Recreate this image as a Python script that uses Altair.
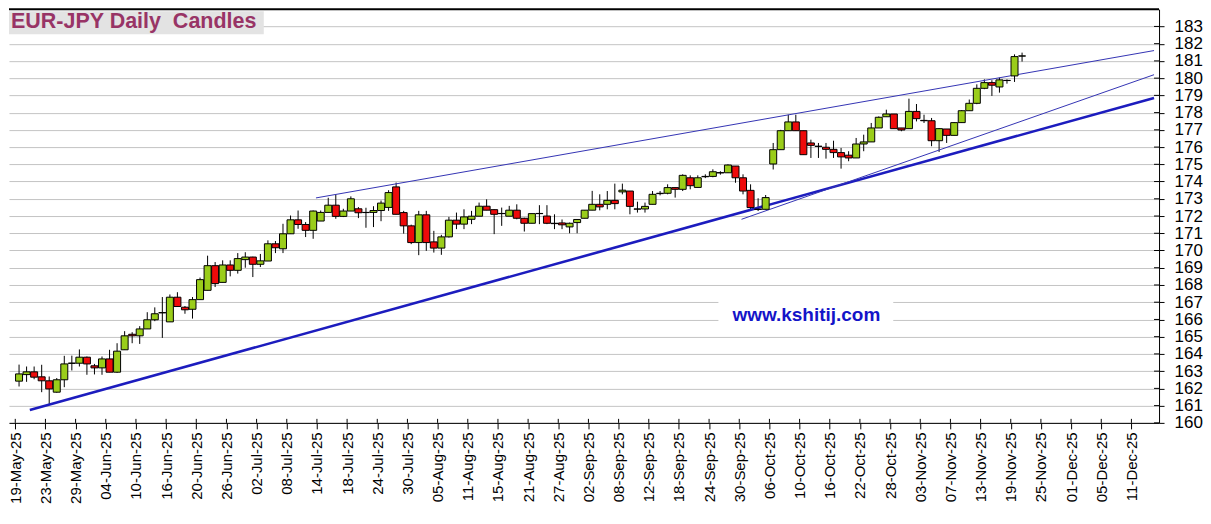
import altair as alt
import pandas as pd

# ---- data: EUR-JPY daily candles, 19-May-25 .. 20-Nov-25 (trading-day index) ----
opens = [
    162.42, 162.80, 162.96, 162.67, 162.44, 161.78, 162.50, 163.45, 163.46, 163.81,
    163.31, 163.19, 163.71, 162.94, 164.24, 165.14, 165.05, 165.45, 165.98, 166.38,
    165.86, 167.29, 166.71, 166.59, 167.15, 167.69, 169.12, 168.15, 169.16, 168.85,
    169.47, 169.62, 169.20, 169.39, 170.39, 170.10, 170.97, 171.78, 171.51, 171.17,
    171.71, 172.21, 172.63, 171.98, 172.29, 172.42, 172.20, 172.21, 172.32, 172.50,
    173.69, 172.20, 171.43, 170.46, 172.07, 170.50, 170.14, 170.79, 171.76, 171.53,
    171.81, 171.99, 172.57, 172.37, 172.14, 171.99, 172.34, 171.87, 171.58, 172.14,
    172.00, 171.58, 171.60, 171.37, 171.62, 171.87, 172.34, 172.68, 172.68, 172.91,
    173.40, 173.45, 172.40, 172.41, 172.68, 173.30, 173.32, 173.65, 173.55, 174.22,
    173.66, 174.28, 174.30, 174.50, 174.51, 174.90, 174.22, 173.49, 172.40, 172.39,
    175.02, 175.85, 176.95, 177.46, 176.95, 176.24, 176.05, 175.99, 175.87, 175.68,
    175.53, 175.37, 176.18, 176.30, 177.11, 177.76, 177.92, 177.11, 177.07, 178.07,
    177.55, 177.53, 176.37, 177.05, 176.68, 177.42, 178.11, 178.54, 179.41, 179.74,
    179.49, 179.86, 180.13, 181.28,
]
highs = [
    163.38, 163.27, 163.27, 163.37, 162.69, 162.60, 163.89, 163.90, 164.26, 163.85,
    163.42, 163.85, 164.24, 164.62, 165.32, 165.26, 165.61, 166.42, 166.70, 167.30,
    167.45, 167.58, 166.78, 167.30, 168.43, 169.70, 169.33, 169.43, 169.43, 169.85,
    169.90, 169.64, 169.80, 170.59, 170.55, 171.55, 172.03, 172.32, 171.65, 172.32,
    172.32, 173.06, 173.25, 172.42, 173.14, 172.52, 172.48, 172.57, 172.90, 173.50,
    173.94, 172.30, 171.50, 172.30, 172.30, 171.14, 170.91, 171.95, 172.20, 172.39,
    172.30, 172.78, 172.97, 172.39, 172.49, 172.59, 172.68, 171.90, 172.14, 172.63,
    172.63, 172.10, 171.80, 171.62, 171.80, 172.34, 173.46, 173.26, 173.45, 173.88,
    173.88, 173.45, 172.83, 172.78, 173.45, 173.45, 173.84, 173.65, 174.42, 174.36,
    174.36, 174.42, 174.71, 174.60, 175.00, 174.90, 174.42, 173.84, 173.03, 173.22,
    176.24, 177.00, 177.88, 177.88, 176.95, 176.43, 176.24, 176.24, 176.37, 175.95,
    175.76, 176.53, 176.72, 177.40, 177.78, 178.17, 177.92, 177.11, 178.81, 178.50,
    177.88, 177.69, 177.10, 177.05, 177.45, 178.15, 178.76, 179.64, 179.93, 179.88,
    180.03, 179.93, 181.38, 181.48,
]
lows = [
    162.11, 162.38, 162.53, 161.78, 161.06, 161.75, 162.07, 163.04, 163.27, 162.79,
    162.81, 162.79, 162.94, 162.90, 164.24, 164.62, 164.58, 165.45, 165.90, 164.93,
    165.86, 166.75, 166.33, 166.05, 167.15, 167.69, 167.88, 168.15, 168.50, 168.66,
    169.00, 168.46, 169.04, 169.39, 169.85, 169.85, 170.97, 171.26, 170.78, 170.68,
    171.71, 172.21, 171.84, 171.94, 172.29, 171.88, 171.32, 171.36, 171.70, 172.30,
    172.10, 170.98, 170.37, 169.73, 169.98, 169.88, 169.75, 170.75, 171.24, 171.24,
    171.53, 171.99, 172.34, 170.95, 171.43, 171.99, 171.81, 171.10, 171.58, 171.53,
    171.53, 171.24, 171.24, 171.00, 171.00, 171.87, 172.34, 172.33, 172.39, 172.39,
    173.26, 172.10, 172.20, 172.20, 172.68, 173.20, 173.26, 173.07, 173.45, 173.55,
    173.66, 174.20, 174.25, 174.40, 174.51, 173.93, 173.26, 172.39, 172.29, 172.39,
    174.70, 175.85, 176.95, 176.95, 175.56, 175.37, 175.37, 175.33, 175.37, 174.75,
    175.18, 175.37, 175.76, 176.30, 177.11, 177.76, 177.07, 176.92, 177.07, 177.49,
    177.40, 176.05, 175.72, 176.24, 176.68, 177.42, 178.11, 178.49, 179.36, 178.97,
    179.16, 179.68, 179.78, 180.96,
]
closes = [
    162.84, 162.96, 162.65, 162.44, 161.97, 162.50, 163.42, 163.47, 163.81, 163.42,
    163.19, 163.71, 162.94, 164.16, 165.05, 165.05, 165.45, 165.98, 166.33, 166.40,
    167.29, 166.75, 166.56, 167.15, 168.31, 169.12, 168.08, 169.16, 168.85, 169.53,
    169.62, 169.20, 169.40, 170.39, 170.16, 170.97, 171.78, 171.51, 171.17, 172.29,
    172.21, 172.63, 171.98, 172.29, 173.00, 172.19, 172.21, 172.32, 172.75, 173.36,
    172.10, 171.43, 170.46, 172.07, 170.46, 170.14, 170.79, 171.76, 171.53, 171.95,
    171.99, 172.57, 172.34, 172.10, 172.15, 172.34, 171.87, 171.58, 172.14, 172.15,
    171.58, 171.56, 171.49, 171.58, 171.80, 172.34, 172.68, 172.53, 172.91, 172.72,
    173.50, 172.56, 172.41, 172.56, 173.26, 173.32, 173.65, 173.55, 174.36, 173.76,
    174.22, 174.30, 174.57, 174.52, 174.96, 174.22, 173.45, 172.49, 172.38, 173.07,
    175.85, 176.95, 177.46, 176.95, 175.56, 176.10, 176.04, 175.87, 175.68, 175.43,
    175.37, 176.18, 176.30, 177.11, 177.73, 177.92, 177.07, 176.99, 178.07, 177.65,
    177.53, 176.37, 177.07, 176.68, 177.42, 178.11, 178.54, 179.41, 179.74, 179.59,
    179.90, 179.87, 181.25, 181.29,
]

tick_labels = [
    "19-May-25", "23-May-25", "29-May-25", "04-Jun-25", "10-Jun-25", "16-Jun-25",
    "20-Jun-25", "26-Jun-25", "02-Jul-25", "08-Jul-25", "14-Jul-25", "18-Jul-25",
    "24-Jul-25", "30-Jul-25", "05-Aug-25", "11-Aug-25", "15-Aug-25", "21-Aug-25",
    "27-Aug-25", "02-Sep-25", "08-Sep-25", "12-Sep-25", "18-Sep-25", "24-Sep-25",
    "30-Sep-25", "06-Oct-25", "10-Oct-25", "16-Oct-25", "22-Oct-25", "28-Oct-25",
    "03-Nov-25", "07-Nov-25", "13-Nov-25", "19-Nov-25", "25-Nov-25", "01-Dec-25",
    "05-Dec-25", "11-Dec-25",
]
price_ticks = list(range(160, 184))

# trend lines: start / end (trading-day index, price)
trend_x0 = [1.93, 39.87, 96.3]
trend_y0 = [160.75, 173.05, 171.81]
trend_x1 = [151.0, 151.0, 151.0]
trend_y1 = [178.85, 181.6, 180.2]
trend_w = [2.6, 1.0, 1.0]
trend_c = ["#1c1cbe", "#3434b4", "#3434b4"]

# ---- build tables ----
n = len(opens)
candles = pd.DataFrame({
    "t": [i + 0.5 for i in range(n)],
    "open": opens, "high": highs, "low": lows, "close": closes,
})
candles["dir"] = ["up" if c >= o else "down" for o, c in zip(opens, closes)]
trends = pd.DataFrame({"x0": trend_x0, "y0": trend_y0, "x1": trend_x1,
                       "y1": trend_y1, "w": trend_w, "c": trend_c})
tick_pos = [4 * k for k in range(len(tick_labels))]
xticks_df = pd.DataFrame({"t": tick_pos})
yticks_df = pd.DataFrame({"p": price_ticks})
label_js = "[" + ",".join("'%s'" % s for s in tick_labels) + "][round(datum.value/4)]"

W, H = 1151, 414
FONT = "Arial, Liberation Sans, sans-serif"

xscale = alt.Scale(domain=[-0.17, 151.0], nice=False, zero=False)
yscale = alt.Scale(domain=[160, 184], nice=False, zero=False)

xaxis = alt.Axis(values=tick_pos, labelExpr=label_js, labelAngle=-90,
                 labelFontSize=15, labelFont=FONT, labelColor="black",
                 tickColor="black", tickSize=6, labelPadding=3,
                 domainColor="black", domainWidth=1, grid=False, title=None,
                 labelOverlap=False, labelBound=False, labelFlush=False,
                 tickCount=len(tick_pos))
yaxis = alt.Axis(orient="right", values=price_ticks, grid=True,
                 gridColor="#c4c4c4", gridWidth=1, labelFontSize=17,
                 labelFont=FONT, labelColor="black", tickColor="black",
                 tickSize=5, labelPadding=10, domainColor="black",
                 title=None, labelOverlap=False, labelFlush=False,
                 tickCount=len(price_ticks))

base = alt.Chart(candles)

wicks = base.mark_rule(color="black", strokeWidth=1).encode(
    x=alt.X("t:Q", scale=xscale, axis=xaxis),
    y=alt.Y("low:Q", scale=yscale, axis=yaxis),
    y2="high:Q",
)
bodies = base.mark_bar(width=7, stroke="black", strokeWidth=1).encode(
    x=alt.X("t:Q", scale=xscale, axis=xaxis),
    y=alt.Y("open:Q", scale=yscale, axis=yaxis),
    y2="close:Q",
    fill=alt.Fill("dir:N", scale=alt.Scale(domain=["up", "down"],
                                            range=["#9acd1a", "#ee0a0a"]),
                  legend=None),
)
lines = alt.Chart(trends).mark_rule(clip=True).encode(
    x=alt.X("x0:Q", scale=xscale, axis=xaxis),
    y=alt.Y("y0:Q", scale=yscale, axis=yaxis),
    x2="x1:Q", y2="y1:Q",
    strokeWidth=alt.StrokeWidth("w:Q", scale=None),
    color=alt.Color("c:N", scale=None),
)
# inner halves of the axis ticks (ticks cross the axis lines)
xin = alt.Chart(xticks_df).mark_rule(color="black", strokeWidth=1).encode(
    x=alt.X("t:Q", scale=xscale, axis=xaxis),
    y=alt.value(H - 4), y2=alt.value(H))
yin = alt.Chart(yticks_df).mark_rule(color="black", strokeWidth=1).encode(
    y=alt.Y("p:Q", scale=yscale, axis=yaxis),
    x=alt.value(W - 5), x2=alt.value(W))

one = pd.DataFrame({"k": [0]})
top_rule = alt.Chart(one).mark_rule(color="black", strokeWidth=2).encode(
    x=alt.value(0), x2=alt.value(W), y=alt.value(0))
title_box = alt.Chart(one).mark_rect(color="#e3e3e3").encode(
    x=alt.value(0), x2=alt.value(255), y=alt.value(2), y2=alt.value(25))
title_txt = alt.Chart(one).mark_text(
    text="EUR-JPY Daily\u00a0\u00a0Candles", align="left", baseline="alphabetic",
    font=FONT, fontSize=21.5, fontWeight="bold", color="#983466",
).encode(x=alt.value(2), y=alt.value(19))
wm_box = alt.Chart(one).mark_rect(color="white").encode(
    x=alt.value(710), x2=alt.value(885), y=alt.value(290), y2=alt.value(322))
wm_txt = alt.Chart(one).mark_text(
    text="www.kshitij.com", align="center", baseline="middle",
    font=FONT, fontSize=19, fontWeight="bold", color="#1414c8",
).encode(x=alt.value(798), y=alt.value(306))

chart = alt.layer(
    wicks, lines, bodies, xin, yin, wm_box, wm_txt, title_box, title_txt, top_rule
).properties(
    width=W, height=H, padding={"left": 0, "top": 0, "right": 0, "bottom": 0},
    background="white",
).configure_view(stroke=None)

chart.save("out.html", embed_options={"renderer": "svg", "actions": False})
